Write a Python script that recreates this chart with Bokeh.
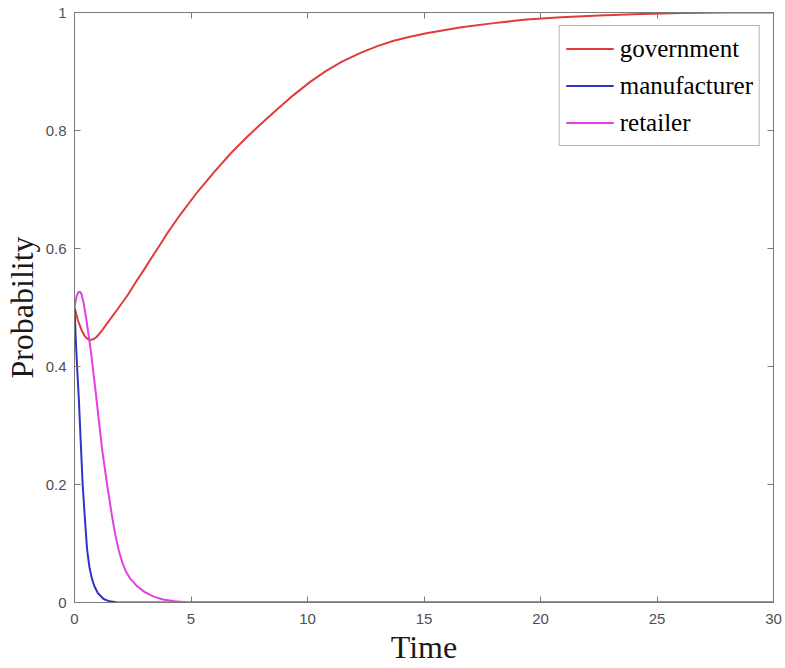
from bokeh.plotting import figure
from bokeh.models import Range1d, FixedTicker, LinearAxis, CustomJSTickFormatter, Legend, LegendItem
from bokeh.embed import file_html
from bokeh.resources import INLINE

# ---- data ----
gov_t = [0, 0.15, 0.3, 0.45, 0.55, 0.65, 0.8, 0.95, 1.2, 1.55, 1.9, 2.3, 2.6, 3.0, 3.3, 3.7,
         4.0, 4.55, 5.3, 6.0, 6.7, 7.4, 8.0, 8.7, 9.4, 10.1, 10.8, 11.5, 12.3, 13.0, 13.7,
         14.4, 15.1, 16.6, 18.0, 19.4, 20.9, 22.5, 24.0, 26.0, 28.0, 30.0]
gov_v = [0.5, 0.478, 0.462, 0.451, 0.447, 0.445, 0.446, 0.450, 0.462, 0.481, 0.500, 0.522,
         0.541, 0.565, 0.584, 0.608, 0.627, 0.658, 0.697, 0.730, 0.761, 0.789, 0.811, 0.836,
         0.860, 0.882, 0.901, 0.917, 0.932, 0.943, 0.952, 0.959, 0.965, 0.975, 0.982, 0.988,
         0.992, 0.995, 0.997, 0.999, 1.0, 1.0]

man_t = [0, 0.05, 0.11, 0.19, 0.27, 0.35, 0.45, 0.54, 0.6, 0.65, 0.75, 0.85, 1.0, 1.25,
         1.5, 1.8, 2.2, 3.0, 5.0, 30.0]
man_v = [0.5, 0.45, 0.40, 0.342, 0.27, 0.20, 0.14, 0.09, 0.072, 0.058, 0.04, 0.028, 0.016,
         0.006, 0.002, 0.0005, 0.0, 0.0, 0.0, 0.0]

ret_t = [0, 0.05, 0.1, 0.17, 0.23, 0.3, 0.38, 0.5, 0.64, 0.72, 0.9, 1.19, 1.4, 1.62, 1.75,
         1.9, 2.05, 2.2, 2.4, 2.7, 3.0, 3.4, 3.8, 4.3, 4.8, 5.5, 30.0]
ret_v = [0.5, 0.512, 0.520, 0.526, 0.527, 0.523, 0.510, 0.482, 0.444, 0.42, 0.36, 0.258,
         0.20, 0.144, 0.115, 0.088, 0.068, 0.053, 0.040, 0.027, 0.018, 0.010, 0.005, 0.002,
         0.0005, 0.0, 0.0]

x_ticks = [0, 5, 10, 15, 20, 25, 30]
y_ticks = [0, 0.2, 0.4, 0.6, 0.8, 1.0]
series_names = ["government", "manufacturer", "retailer"]
series_colors = ["#e03c3c", "#3232c8", "#e040e6"]

AX = "#7a7a7a"
LBL = "#505050"

p = figure(width=785, height=668, output_backend="svg", toolbar_location=None,
           x_range=Range1d(0, 30), y_range=Range1d(0, 1),
           min_border_left=74, min_border_right=12, min_border_top=12, min_border_bottom=66)
p.background_fill_color = "white"
p.border_fill_color = "white"
p.grid.visible = False
p.outline_line_color = AX

fmt = CustomJSTickFormatter(code="return String(Math.round(tick*10)/10);")
blank = CustomJSTickFormatter(code="return '';")

def style(ax, ticks, show_labels):
    ax.ticker = FixedTicker(ticks=ticks)
    ax.major_tick_in = 6
    ax.major_tick_out = 0
    ax.minor_tick_in = 0
    ax.minor_tick_out = 0
    ax.axis_line_color = AX
    ax.major_tick_line_color = AX
    ax.major_label_text_color = LBL
    ax.major_label_text_font = "Liberation Sans"
    ax.major_label_text_font_size = "15px"
    if show_labels:
        ax.formatter = fmt
    else:
        ax.formatter = blank
        ax.major_label_standoff = 0

style(p.xaxis[0], x_ticks, True)
style(p.yaxis[0], y_ticks, True)
p.xaxis[0].major_label_standoff = 11
p.yaxis[0].major_label_standoff = 8

p.xaxis[0].axis_label = "Time"
p.yaxis[0].axis_label = "Probability"
for ax in (p.xaxis[0], p.yaxis[0]):
    ax.axis_label_text_font = "Liberation Serif"
    ax.axis_label_text_font_size = "32px"
    ax.axis_label_text_font_style = "normal"
    ax.axis_label_text_color = "#1a1a1a"
p.xaxis[0].axis_label_standoff = 2
p.yaxis[0].axis_label_standoff = 3

top_ax = LinearAxis()
right_ax = LinearAxis()
style(top_ax, x_ticks, False)
style(right_ax, y_ticks, False)
p.add_layout(top_ax, "above")
p.add_layout(right_ax, "right")

r_gov = p.line(gov_t, gov_v, line_color=series_colors[0], line_width=2)
r_man = p.line(man_t, man_v, line_color=series_colors[1], line_width=2)
r_ret = p.line(ret_t, ret_v, line_color=series_colors[2], line_width=2)

legend = Legend(items=[LegendItem(label=series_names[0], renderers=[r_gov]),
                       LegendItem(label=series_names[1], renderers=[r_man]),
                       LegendItem(label=series_names[2], renderers=[r_ret])],
                location="top_right")
legend.margin = 13
legend.padding = 6
legend.spacing = 4
legend.glyph_width = 48
legend.glyph_height = 33
legend.label_height = 33
legend.label_standoff = 6
legend.label_text_font = "Liberation Serif"
legend.label_text_font_size = "25px"
legend.label_text_color = "black"
legend.border_line_color = "#707070"
legend.border_line_width = 1
legend.background_fill_color = "white"
legend.background_fill_alpha = 1
p.add_layout(legend, "center")

open("out.html", "w").write(file_html(p, INLINE))
